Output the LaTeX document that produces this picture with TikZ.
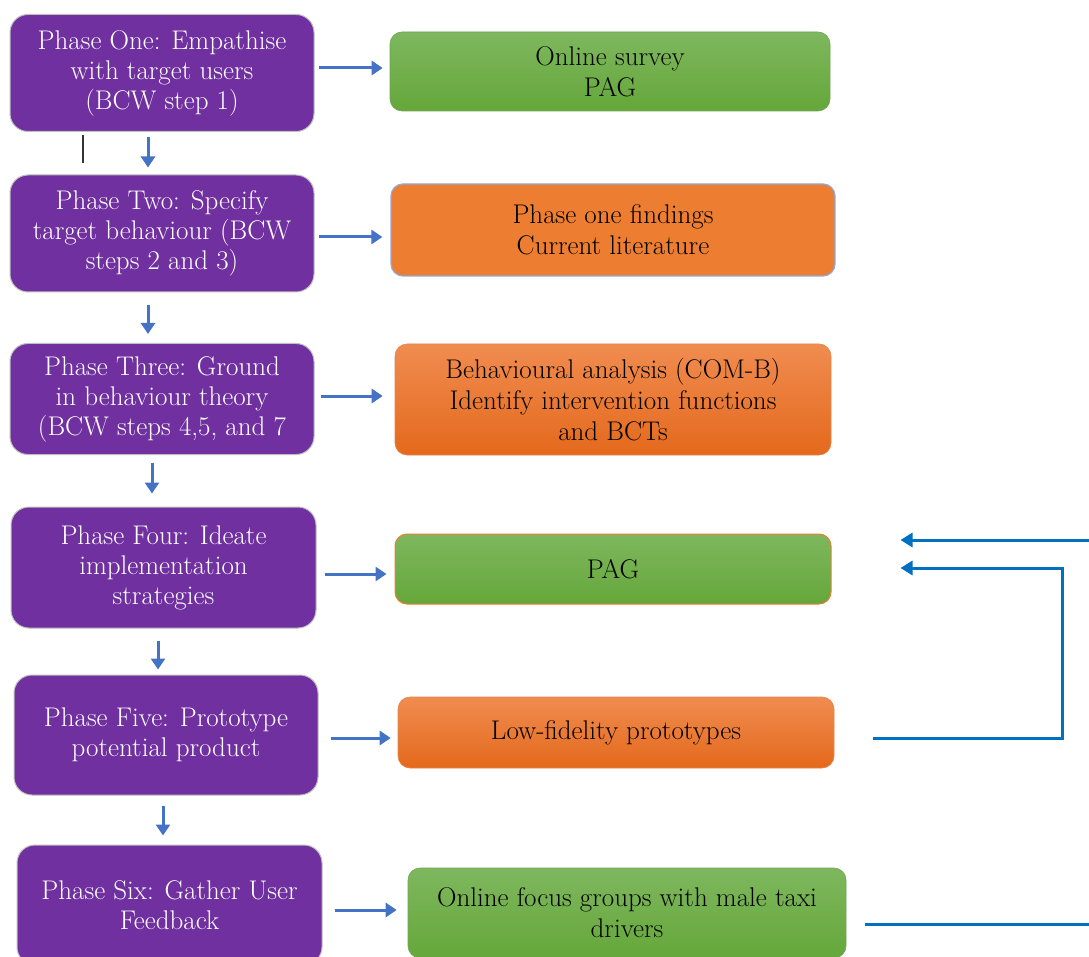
\documentclass[tikz,border=0pt]{standalone}
\usetikzlibrary{arrows.meta,calc}
\definecolor{phase}{HTML}{7030A0}
\definecolor{arrblue}{HTML}{4472C4}
\definecolor{fbblue}{HTML}{0070C0}
\definecolor{grtop}{HTML}{7EB75E}
\definecolor{grbot}{HTML}{65A73A}
\definecolor{ortop}{HTML}{F08C50}
\definecolor{orbot}{HTML}{E4691C}
\definecolor{orflat}{HTML}{ED7D31}
\definecolor{bluebd}{HTML}{8FAADC}
\tikzset{
  phasebox/.style={draw=black!25, line width=1pt, fill=phase, rounded corners=18pt,
    text=white, align=center, inner sep=0pt, font=\fontsize{27}{30}\selectfont},
  resbox/.style={rounded corners=12pt, text=black, align=center, inner sep=0pt,
    font=\fontsize{27}{31}\selectfont},
  greenbox/.style={resbox, top color=grtop, bottom color=grbot, draw=grtop!90!black, line width=0.6pt},
  orangebox/.style={resbox, top color=ortop, bottom color=orbot, draw=ortop!95!black, line width=0.6pt},
  arr/.style={draw=arrblue, line width=3pt, -{Triangle[length=11pt,width=14pt]}},
  fb/.style={draw=fbblue, line width=3pt},
  fbarr/.style={fb, -{Triangle[length=12pt,width=14pt]}},
}
\begin{document}
\begin{tikzpicture}[x=1pt,y=-1pt]
\clip (0,0) rectangle (1089,957);
\fill[white] (0,0) rectangle (1089,957);

% phase boxes
\node[phasebox, minimum width=304pt, minimum height=117pt] (P1) at (162,73)
  {Phase One: Empathise\\with target users\\(BCW step 1)};
\node[phasebox, minimum width=304pt, minimum height=117pt] (P2) at (162,233.5)
  {Phase Two: Specify\\target behaviour (BCW\\steps 2 and 3)};
\node[phasebox, minimum width=304pt, minimum height=111pt] (P3) at (162,399)
  {Phase Three: Ground\\in behaviour theory\\(BCW steps 4,5, and 7};
\node[phasebox, minimum width=305pt, minimum height=121pt] (P4) at (163.5,567.5)
  {Phase Four: Ideate\\implementation\\strategies};
\node[phasebox, minimum width=304pt, minimum height=120pt] (P5) at (166,735)
  {Phase Five: Prototype\\potential product};
\node[phasebox, minimum width=305pt, minimum height=120pt] (P6) at (169.5,905)
  {Phase Six: Gather User\\Feedback};

% result boxes
\node[greenbox, minimum width=440pt, minimum height=79pt] (A) at (610,71.5)
  {Online survey\\PAG};
\node[resbox, fill=orflat, draw=bluebd, line width=1.2pt, minimum width=444pt, minimum height=92pt] (B) at (613,230)
  {Phase one findings\\Current literature};
\node[orangebox, minimum width=436pt, minimum height=111pt] (C) at (613,399.5)
  {Behavioural analysis (COM-B)\\Identify intervention functions\\and BCTs};
\node[greenbox, draw=orflat, line width=1pt, minimum width=436pt, minimum height=70pt] (D) at (613,569)
  {PAG};
\node[orangebox, minimum width=436pt, minimum height=71pt] (E) at (616,732.5)
  {Low-fidelity prototypes};
\node[greenbox, minimum width=438pt, minimum height=90pt] (F) at (627,913)
  {Online focus groups with male taxi\\drivers};

% vertical arrows
\draw[arr] ([xshift=-14pt,yshift=-5.5pt]P1.south) -- ([xshift=-14pt,yshift=7pt]P2.north);
\draw[arr] ([xshift=-14pt,yshift=-13pt]P2.south) -- ([xshift=-14pt,yshift=9pt]P3.north);
\draw[arr] ([xshift=-10pt,yshift=-7.5pt]P3.south) -- ([xshift=-11.5pt,yshift=13pt]P4.north);
\draw[arr] ([xshift=-5.5pt,yshift=-12pt]P4.south) -- ([xshift=-8pt,yshift=5pt]P5.north);
\draw[arr] ([xshift=-3pt,yshift=-10pt]P5.south) -- ([xshift=-6.5pt,yshift=9pt]P6.north);

% stray line
\coordinate (s1) at (83,135);
\coordinate (s2) at (83,163);
\draw[black!80, line width=1.2pt] (s1) -- (s2);

% horizontal arrows
\draw[arr] ([xshift=4pt,yshift=5pt]P1.east) -- ([xshift=-7pt,yshift=5pt]P1.east -| A.west);
\draw[arr] ([xshift=4pt,yshift=-3.5pt]P2.east) -- ([xshift=-8pt,yshift=-3.5pt]P2.east -| B.west);
\draw[arr] ([xshift=6pt,yshift=3pt]P3.east) -- ([xshift=-12pt,yshift=3pt]P3.east -| C.west);
\draw[arr] ([xshift=8pt,yshift=-6.5pt]P4.east) -- ([xshift=-8pt,yshift=-6.5pt]P4.east -| D.west);
\draw[arr] ([xshift=12pt,yshift=-3pt]P5.east) -- ([xshift=-7pt,yshift=-3pt]P5.east -| E.west);
\draw[arr] ([xshift=12pt]P6.east |- 0,910) -- ([xshift=-11pt]F.west |- 0,910);

% feedback loops
\coordinate (e0) at ([xshift=39pt]E.east |- 0,738);
\coordinate (e1) at (1062,738);
\coordinate (e2) at (1062,568);
\coordinate (d1) at ([xshift=69pt]D.east |- 0,568);
\draw[fbarr] (e0) -- (e1) -- (e2) -- (d1);

\coordinate (f0) at ([xshift=19pt]F.east |- 0,924);
\coordinate (f1) at (1110,924);
\coordinate (f2) at (1110,540);
\coordinate (d2) at ([xshift=69pt]D.east |- 0,540);
\draw[fbarr] (f0) -- (f1) -- (f2) -- (d2);
\end{tikzpicture}
\end{document}
